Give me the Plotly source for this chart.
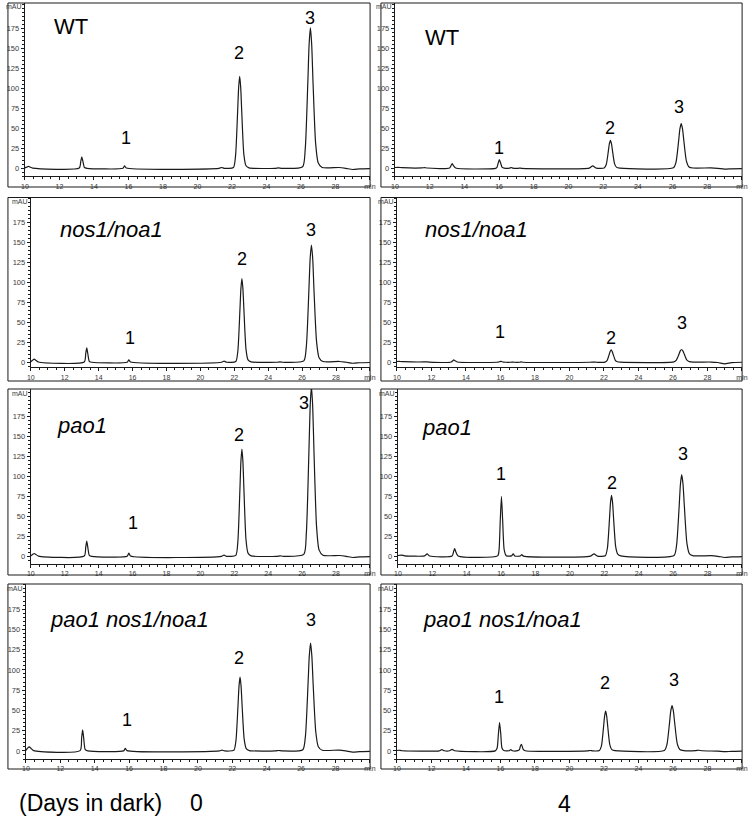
import plotly.graph_objects as go

W, H = 756, 817

# ---------------- data ----------------
# retention time (min) grid shared by the day-0 traces
t_day0 = [10.0, 10.1, 10.2, 10.3, 10.45, 13.15, 13.24, 13.3, 13.36, 13.45, 13.6,
          15.68, 15.78, 15.88, 21.25, 21.4, 21.55,
          22.09, 22.21, 22.33, 22.39, 22.45, 22.51, 22.57, 22.69, 22.81, 22.99,
          24.5, 24.7, 24.9,
          26.1, 26.25, 26.4, 26.475, 26.55, 26.625, 26.7, 26.85, 27.0, 27.23,
          28.2, 28.6, 29.0, 29.4, 30.0]
wt_d0 = [0.5, 1.5, 2.5, 1.5, 0.2, 0.3, 8.8, 14.5, 9.0, 1.0, 0.0,
         0.0, 3.0, 0.3, 0.0, 1.0, 0.0,
         1.0, 15.5, 70.0, 101.0, 115.0, 101.0, 71.0, 18.0, 3.5, 0.5,
         0.0, 0.6, 0.0,
         2.0, 24.0, 107.0, 155.0, 176.0, 155.0, 109.0, 32.0, 7.0, 1.0,
         1.0, 0.0, -1.5, -0.8, -0.5]
nos_d0 = [0.5, 2.5, 4.0, 2.5, 0.3, 0.3, 11.0, 18.0, 11.0, 1.2, 0.0,
          0.0, 3.0, 0.3, 0.0, 1.5, 0.0,
          1.0, 14.0, 64.0, 92.0, 105.0, 92.0, 65.0, 16.5, 3.0, 0.5,
          0.0, 0.5, 0.0,
          1.7, 20.0, 90.0, 130.0, 147.0, 130.0, 91.0, 26.5, 5.8, 1.0,
          1.0, 0.0, -1.2, -0.6, -0.3]
pao_d0 = [0.5, 2.2, 3.5, 2.2, 0.3, 0.3, 11.5, 19.0, 11.5, 1.2, 0.0,
          0.0, 4.0, 0.4, 0.0, 1.5, 0.0,
          1.2, 18.0, 82.0, 118.0, 134.0, 118.0, 83.0, 21.0, 4.0, 0.6,
          0.0, 0.6, 0.0,
          2.4, 29.0, 129.0, 187.0, 212.0, 187.0, 131.0, 38.0, 8.0, 1.2,
          1.0, 0.0, -1.5, -0.8, -0.5]
paonos_d0 = [0.5, 3.5, 5.0, 3.0, 0.3, 0.3, 16.0, 26.0, 16.0, 1.5, 0.0,
             0.0, 3.0, 0.3, 0.0, 1.0, 0.0,
             0.8, 12.3, 55.5, 80.0, 91.0, 80.0, 56.0, 14.5, 2.8, 0.4,
             0.0, 0.5, 0.0,
             1.5, 18.0, 81.0, 117.0, 133.0, 117.0, 82.0, 24.0, 5.2, 0.8,
             1.0, 0.0, -1.5, -0.8, -0.5]

# retention time grid shared by WT / nos1 / pao1 at day 4
t_day4 = [10.0, 10.2, 10.4, 11.55, 11.7, 11.85, 13.15, 13.24, 13.3, 13.36, 13.5,
          15.8, 15.88, 15.95, 16.02, 16.09, 16.18, 16.3, 16.6, 16.7, 16.8,
          17.1, 17.2, 17.3, 21.2, 21.4, 21.6,
          22.06, 22.18, 22.3, 22.36, 22.42, 22.48, 22.54, 22.66, 22.78, 22.96,
          26.05, 26.2, 26.35, 26.425, 26.5, 26.575, 26.65, 26.8, 26.95, 27.18,
          28.2, 28.6, 29.0, 29.4, 30.0]
wt_d4 = [1.0, 1.2, 0.8, 0.5, 0.9, 0.4, 0.3, 3.8, 6.0, 3.8, 0.3,
         0.0, 1.2, 6.5, 11.0, 6.6, 1.2, 0.2, 0.2, 1.0, 0.2,
         0.0, 0.3, 0.0, 0.3, 3.0, 0.3,
         0.4, 4.7, 21.5, 30.8, 35.0, 30.8, 21.8, 5.6, 1.2, 0.3,
         0.6, 7.6, 34.0, 49.3, 56.0, 49.3, 35.0, 9.0, 1.7, 0.4,
         0.5, 0.0, -1.0, -0.6, -0.3]
nos_d4 = [1.0, 1.0, 0.7, 0.4, 0.6, 0.3, 0.3, 2.0, 3.0, 2.0, 0.3,
          0.0, 0.2, 0.7, 1.2, 0.7, 0.2, 0.0, 0.0, 0.2, 0.0,
          0.0, 0.5, 0.0, 0.0, 0.3, 0.0,
          0.2, 2.1, 9.5, 13.6, 15.5, 13.6, 9.6, 2.5, 0.6, 0.1,
          0.5, 2.8, 10.0, 14.3, 16.0, 14.3, 10.6, 3.0, 0.8, 0.2,
          0.3, -0.3, -2.0, -0.5, 0.0]
pao_d4 = [1.0, 1.5, 0.6, 0.5, 3.0, 0.4, 0.3, 6.0, 9.5, 6.0, 0.4,
          0.5, 8.0, 44.0, 75.0, 45.0, 8.0, 0.8, 0.5, 3.0, 0.4,
          0.3, 2.0, 0.2, 0.3, 3.0, 0.3,
          0.8, 10.3, 46.5, 67.0, 76.0, 67.0, 47.0, 12.2, 2.7, 0.5,
          1.0, 13.8, 62.0, 90.0, 102.0, 90.0, 64.0, 16.5, 3.0, 0.6,
          0.8, 0.0, -1.5, -0.8, -0.3]

# pao1 nos1/noa1 at day 4 (slightly shifted retention times)
t_paonos_d4 = [10.0, 10.1, 10.3, 12.45, 12.6, 12.75, 13.05, 13.2, 13.35,
               15.7, 15.81, 15.88, 15.95, 16.02, 16.09, 16.2, 16.5, 16.6, 16.7,
               17.0, 17.1, 17.16, 17.22, 17.32, 17.45, 21.05, 21.2, 21.35,
               21.74, 21.86, 21.98, 22.04, 22.1, 22.16, 22.22, 22.34, 22.46, 22.64,
               25.5, 25.65, 25.8, 25.875, 25.95, 26.025, 26.1, 26.25, 26.4, 26.63,
               27.3, 27.5, 27.7, 28.6, 29.0, 29.4, 30.0]
paonos_d4 = [0.5, 0.8, 0.2, 0.0, 1.5, 0.2, 0.2, 2.0, 0.2,
             0.0, 3.5, 20.0, 35.0, 21.0, 3.5, 0.4, 0.2, 1.5, 0.2,
             0.3, 1.5, 6.0, 8.0, 2.0, 0.2, 0.0, 0.5, 0.0,
             0.5, 6.6, 30.0, 43.0, 49.0, 43.0, 30.5, 7.8, 1.5, 0.3,
             0.5, 7.6, 34.0, 49.3, 56.0, 49.3, 35.0, 9.0, 1.7, 0.4,
             0.3, 0.8, 0.2, -0.3, -1.0, -0.6, -0.3]

genotypes = ["WT", "nos1/noa1", "pao1", "pao1 nos1/noa1"]
days = ["0", "4"]
peak_labels = ["1", "2", "3"]

# peak-number label positions (min, mAU)
lab_x_d0 = [[15.85, 22.4, 26.5], [15.85, 22.45, 26.55], [16.0, 22.3, 26.1], [15.85, 22.4, 26.6]]
lab_y_d0 = [[38, 144, 188], [30, 130, 166], [42, 152, 192], [38, 115, 162]]
lab_x_d4 = [[16.0, 22.4, 26.4], [16.0, 22.4, 26.55], [16.0, 22.45, 26.55], [15.9, 22.05, 26.05]]
lab_y_d4 = [[26, 50, 77], [38, 31, 49], [103, 91, 128], [66, 84, 88]]

x_tick_vals = [10, 12, 14, 16, 18, 20, 22, 24, 26, 28, 30]
x_tick_text = ["10", "12", "14", "16", "18", "20", "22", "24", "26", "28", "min"]
y_tick_vals = [0, 25, 50, 75, 100, 125, 150, 175]

traces_d0 = [(t_day0, wt_d0), (t_day0, nos_d0), (t_day0, pao_d0), (t_day0, paonos_d0)]
traces_d4 = [(t_day4, wt_d4), (t_day4, nos_d4), (t_day4, pao_d4), (t_paonos_d4, paonos_d4)]

# ---------------- layout geometry (pixels) ----------------
row_top = [3, 197.5, 389, 584]
row_axis = [176.3, 367.3, 563.5, 759]
row_box_bottom = [187, 381, 575, 769]
row_yrange = [[-10, 207], [-6.3, 206.5], [-9, 209], [-10, 206]]
col_box_left = [4, 382]
col_right = [371, 748]
col_axis_left = [[21, 27, 27, 22], [396, 398, 399, 398]]
name_left = [[49, 55, 52, 45], [425, 425, 422, 423]]
name_y = [[27, 230, 425, 619], [37, 230, 427, 619]]

FONT = "Liberation Sans, Arial, sans-serif"
INK = "#1a1a1a"
TICK_INK = "#3a3a3a"

fig = go.Figure()
layout = {}
shapes = []
annotations = []

def px_x(v):
    return v / W

def px_y(v):
    return 1 - v / H

panel = 0
for col in range(2):
    traces = traces_d0 if col == 0 else traces_d4
    lab_x = lab_x_d0 if col == 0 else lab_x_d4
    lab_y = lab_y_d0 if col == 0 else lab_y_d4
    for row in range(4):
        panel += 1
        xn = "x" if panel == 1 else f"x{panel}"
        yn = "y" if panel == 1 else f"y{panel}"
        t, v = traces[row]
        fig.add_trace(go.Scatter(x=t, y=v, mode="lines",
                                 line=dict(color=INK, width=1.2, shape="spline", smoothing=0.6),
                                 xaxis=xn, yaxis=yn, showlegend=False,
                                 hoverinfo="skip"))
        al = col_axis_left[col][row]
        layout["xaxis" if panel == 1 else f"xaxis{panel}"] = dict(
            domain=[px_x(al), px_x(col_right[col])],
            range=[9.99, 30.01], anchor=yn,
            tickmode="array", tickvals=x_tick_vals, ticktext=x_tick_text,
            ticks="outside", ticklen=3, tickwidth=1, tickcolor=INK,
            showline=True, linecolor=INK, linewidth=1,
            showgrid=False, zeroline=False,
            tickfont=dict(size=7, color=TICK_INK, family=FONT),
            minor=dict(dtick=0.5, tick0=10, ticks="outside", ticklen=2,
                       tickcolor=INK, showgrid=False),
            fixedrange=True,
        )
        layout["yaxis" if panel == 1 else f"yaxis{panel}"] = dict(
            domain=[px_y(row_axis[row]), px_y(row_top[row])],
            range=row_yrange[row], anchor=xn,
            tickmode="array", tickvals=y_tick_vals,
            ticks="outside", ticklen=3, tickwidth=1, tickcolor=INK,
            showline=True, linecolor=INK, linewidth=1,
            showgrid=False, zeroline=False,
            tickfont=dict(size=7.5, color=TICK_INK, family=FONT),
            minor=dict(dtick=5, tick0=0, ticks="outside", ticklen=1.5,
                       tickcolor=INK, showgrid=False),
            fixedrange=True,
        )
        # panel frame
        shapes.append(dict(type="rect", xref="paper", yref="paper",
                           x0=px_x(col_box_left[col]), x1=px_x(col_right[col]),
                           y0=px_y(row_box_bottom[row]), y1=px_y(row_top[row]),
                           line=dict(color=INK, width=1), fillcolor="rgba(0,0,0,0)"))
        # mAU unit
        annotations.append(dict(text="mAU", xref="paper", yref="paper",
                                x=px_x(al - 1), y=px_y(row_top[row] + 4),
                                xanchor="right", yanchor="middle", showarrow=False,
                                font=dict(size=7, color=TICK_INK, family=FONT)))
        # genotype name
        name = genotypes[row]
        txt = name if name == "WT" else f"<i>{name}</i>"
        annotations.append(dict(text=txt, xref="paper", yref="paper",
                                x=px_x(name_left[col][row]), y=px_y(name_y[col][row]),
                                xanchor="left", yanchor="middle", showarrow=False,
                                font=dict(size=22, color="#000", family=FONT)))
        # peak numbers
        for k, lbl in enumerate(peak_labels):
            annotations.append(dict(text=lbl, xref=xn, yref=yn,
                                    x=lab_x[row][k], y=lab_y[row][k],
                                    xanchor="center", yanchor="middle", showarrow=False,
                                    font=dict(size=18, color="#000", family=FONT)))

annotations.append(dict(text="(Days in dark)", xref="paper", yref="paper",
                        x=px_x(13), y=px_y(803), xanchor="left", yanchor="middle",
                        showarrow=False, font=dict(size=23, color="#000", family=FONT)))
annotations.append(dict(text=days[0], xref="paper", yref="paper",
                        x=px_x(195), y=px_y(803), xanchor="center", yanchor="middle",
                        showarrow=False, font=dict(size=23, color="#000", family=FONT)))
annotations.append(dict(text=days[1], xref="paper", yref="paper",
                        x=px_x(568), y=px_y(804), xanchor="center", yanchor="middle",
                        showarrow=False, font=dict(size=23, color="#000", family=FONT)))

fig.update_layout(
    width=W, height=H,
    margin=dict(l=0, r=0, t=0, b=0),
    paper_bgcolor="white", plot_bgcolor="white",
    showlegend=False,
    shapes=shapes, annotations=annotations,
    font=dict(family=FONT),
    **layout,
)

fig.write_html(
    "out.html",
    config={"displayModeBar": False, "staticPlot": True},
    post_script="document.body.style.margin='0px';document.body.style.padding='0px';"
                "document.documentElement.style.overflow='hidden';",
)
